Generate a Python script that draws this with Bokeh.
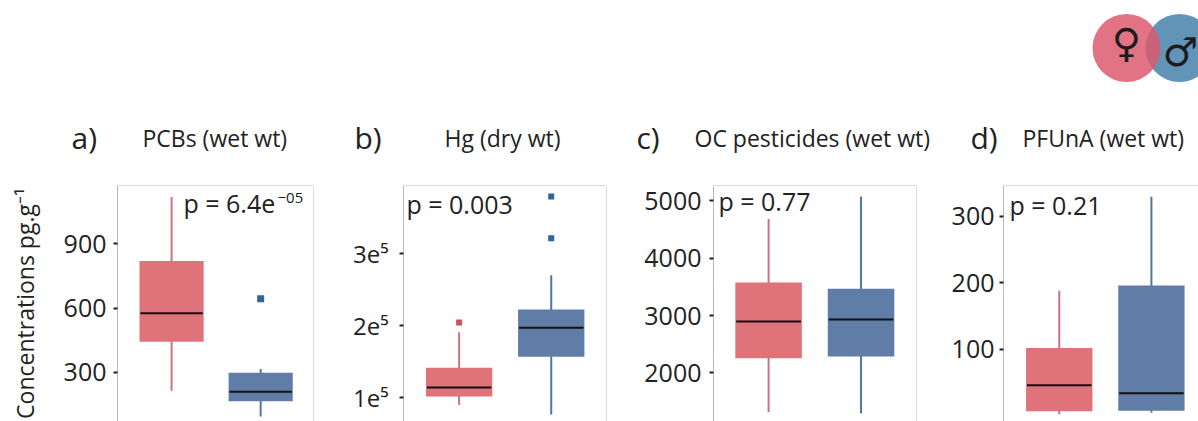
import math
from bokeh.embed import file_html
from bokeh.resources import INLINE
from bokeh.plotting import figure
from bokeh.layouts import column, row
from bokeh.models import FixedTicker, Label, Span, Range1d
from bokeh.core.properties import value

FONT = "Open Sans"
sexes = [1, 2]
pcb_q = dict(low=[215, 94], q1=[443, 165], med=[577, 210], q3=[820, 299], high=[1119, 316])
pcb_out_x, pcb_out_y = [2], [644]
hg_q = dict(low=[90300, 77000], q1=[101800, 157000], med=[114500, 197200], q3=[141700, 222500], high=[190800, 270000])
hg_out_x, hg_out_y = [1, 2, 2], [204600, 321000, 379000]
oc_q = dict(low=[1315, 1298], q1=[2254, 2288], med=[2896, 2930], q3=[3575, 3466], high=[4682, 5074])
pf_q = dict(low=[2.5, 5], q1=[7, 8], med=[46, 34], q3=[102, 196], high=[188, 329])
titles = ["PCBs (wet wt)", "Hg (dry wt)", "OC pesticides (wet wt)", "PFUnA (wet wt)"]
tags = ["a)", "b)", "c)", "d)"]
pvals = ["p = 6.4e", "p = 0.003", "p = 0.77", "p = 0.21"]
pcb_ticks = [300, 600, 900]
hg_ticks = [100000, 200000, 300000]
hg_labels = ["1e⁵", "2e⁵", "3e⁵"]
oc_ticks = [2000, 3000, 4000, 5000]
pf_ticks = [100, 200, 300]

PINK, BLUE = "#e0727a", "#5f7da6"
WPINK, WBLUE = "#c9747f", "#50789c"
OPINK, OBLUE = "#d24f60", "#2f6694"
GREY = "#b9b9c0"
TOP = 183
BOTTOM = 421

def panel(q, ticks, labels, xr, yr, fig_l, fig_r, fr_l, fr_r, fr_t, outl=None, ylabel=None,
          standoff=7, tick_font="25px", out_size=6):
    width = fig_r - fig_l
    height = BOTTOM - TOP
    p = figure(width=width, height=height, output_backend="svg", toolbar_location=None,
               x_range=Range1d(*xr), y_range=Range1d(*yr),
               min_border_left=fr_l - fig_l, min_border_right=fig_r - fr_r,
               min_border_top=fr_t - TOP, min_border_bottom=0, outline_line_color=None)
    p.xaxis.visible = False
    p.grid.visible = False
    a = p.yaxis[0]
    a.ticker = FixedTicker(ticks=ticks)
    a.major_label_overrides = {t: l for t, l in zip(ticks, labels)}
    a.major_label_text_font = FONT
    a.major_label_text_font_size = tick_font
    a.major_label_text_color = "#222222"
    a.major_tick_in = 0
    a.major_tick_out = 4
    a.major_tick_line_width = 2
    a.major_tick_line_color = "#222222"
    a.minor_tick_line_color = None
    a.axis_line_color = GREY
    a.major_label_standoff = standoff
    if ylabel:
        a.axis_label = ylabel
        a.axis_label_text_font = FONT
        a.axis_label_text_font_style = "normal"
        a.axis_label_text_font_size = "23px"
        a.axis_label_text_color = "#222222"
        a.axis_label_standoff = 20
    p.add_layout(Span(location=yr[1], dimension="width", line_color=GREY, line_width=1))
    if xr[1] >= 2.55:
        p.add_layout(Span(location=xr[1], dimension="height", line_color=GREY, line_width=1))
    w = 0.72
    for i, (fc, wc) in enumerate([(PINK, WPINK), (BLUE, WBLUE)]):
        x = sexes[i]
        p.segment([x], [q["low"][i]], [x], [q["high"][i]], line_color=wc, line_width=2)
        p.vbar(x=[x], width=w, bottom=[q["q1"][i]], top=[q["q3"][i]], fill_color=fc, line_color=None)
        p.segment([x - w / 2 + 0.01], [q["med"][i]], [x + w / 2 - 0.01], [q["med"][i]], line_color="#111111", line_width=2)
    if outl:
        xs, ys = outl
        colors = [OPINK if v == 1 else OBLUE for v in xs]
        p.scatter(xs, ys, marker="square", size=out_size, fill_color=colors, line_color=None)
    def dx(px):
        return xr[0] + (px - fr_l) / (fr_r - fr_l) * (xr[1] - xr[0])
    def dy(py):
        return yr[1] - (py - fr_t) / (BOTTOM - fr_t) * (yr[1] - yr[0])
    p._dx, p._dy = dx, dy
    return p

def plabel(p, txt, px, py, size=25):
    p.add_layout(Label(x=p._dx(px), y=p._dy(py), text=txt, text_font=FONT, text_font_size=f"{size}px",
                       text_color="#222222", text_baseline="alphabetic"))

pa = panel(pcb_q, pcb_ticks, [str(t) for t in pcb_ticks], (0.393, 2.593), (71, 1173), 0, 345, 117, 313, 184,
           (pcb_out_x, pcb_out_y), ylabel="Concentrations pg.g⁻¹", out_size=7)
pb = panel(hg_q, hg_ticks, hg_labels, (0.396, 2.6), (67300, 394200), 345, 632, 403, 606, 184,
           (hg_out_x, hg_out_y), standoff=11, tick_font="24px")
pc = panel(oc_q, oc_ticks, [str(t) for t in oc_ticks], (0.404, 2.6), (1154, 5264), 632, 945, 713, 916, 183, standoff=8)
pd = panel(pf_q, pf_ticks, [str(t) for t in pf_ticks], (0.395, 2.511), (-8.3, 346), 945, 1198, 1003, 1198, 185, standoff=5)

plabel(pa, pvals[0], 183, 202)
plabel(pa, "−05", 277, 197, 15)
plabel(pb, pvals[1], 406, 203)
plabel(pc, pvals[2], 718, 199)
plabel(pd, pvals[3], 1009, 204)

# header strip: titles and the sex symbols
head = figure(width=1198, height=TOP, output_backend="svg", toolbar_location=None,
              x_range=Range1d(0, 1198), y_range=Range1d(TOP, 0), min_border=0, outline_line_color=None)
head.axis.visible = False
head.grid.visible = False
head.circle(x=[1179], y=[47.5], radius=34, fill_color="#6294b8", line_color=None)
head.circle(x=[1126], y=[47.5], radius=34, fill_color="#dc5a70", fill_alpha=0.85, line_color=None)
head.text(x=[1126], y=[42], text=["♀"], text_font=value("DejaVu Sans"), text_font_size="40px",
          text_align="center", text_baseline="alphabetic", text_color="#1c1c1c")
head.text(x=[1180], y=[51], text=["♂"], text_font=value("DejaVu Sans"), text_font_size="40px",
          text_align="center", text_baseline="alphabetic", text_color="#1c1c1c")
tag_x = [71, 354, 636, 970]
title_x = [142, 444, 694, 1022]
head.text(x=tag_x, y=[137] * 4, text=tags, text_font=value(FONT), text_font_size="30px",
          text_baseline="alphabetic", text_color="#222222")
head.text(x=title_x, y=[137] * 4, text=titles, text_font=value(FONT), text_font_size="23px",
          text_baseline="alphabetic", text_color="#222222")

page = column(head, row(pa, pb, pc, pd, spacing=0), spacing=0)
open("out.html", "w").write(file_html(page, INLINE))
